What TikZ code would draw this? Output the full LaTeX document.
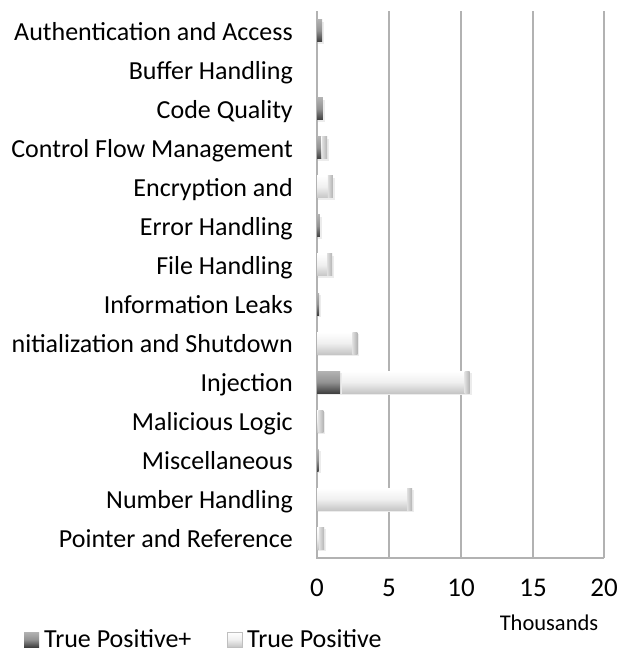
\documentclass[tikz,border=0pt]{standalone}
\usepackage{fontspec}
\setmainfont{Carlito}
\newcommand\barlight[3]{%
  \fill[gray!15] ({317+#2*14.4+1},{#1-9}) rectangle ({317+#3*14.4+2},{#1+13});
  \shade[lightbar] ({317+#2*14.4},{#1-11}) rectangle ({317+#3*14.4},{#1+11});
  \shade[lightcap] ({317+#3*14.4-min(5,(#3-#2)*14.4)},{#1-11}) rectangle ({317+#3*14.4},{#1+11});
}
\newcommand\bardark[3]{%
  \fill[gray!15] ({317+#2*14.4+1},{#1-9}) rectangle ({317+#3*14.4+2},{#1+13});
  \shade[darkbar] ({317+#2*14.4},{#1-11}) rectangle ({317+#3*14.4},{#1+11});
}
\begin{document}
\begin{tikzpicture}[x=1pt,y=-1pt,
  cat/.style={anchor=base east,font=\fontsize{26}{26}\selectfont,inner sep=0pt},
  gridline/.style={draw=gray!60,line width=1.2pt},
  ticklab/.style={anchor=base,font=\fontsize{27}{27}\selectfont,inner sep=0pt},
  leglab/.style={anchor=base west,font=\fontsize{26}{26}\selectfont,inner sep=0pt,text depth=0pt},
  lightbar/.style={top color=white,bottom color=gray!45,middle color=gray!12},
  lightcap/.style={left color=gray!25,right color=gray!60},
  darkbar/.style={top color=gray!60,bottom color=black!75,middle color=gray!85}]
\useasboundingbox (0,0) rectangle (618,653);
\fill[white] (0,0) rectangle (618,653);
% grid
\foreach \gx in {389,461,533,604} \draw[gridline] (\gx,11) -- (\gx,558);
\draw[gridline] (317,11) -- (317,558) -- (604,558);
% labels
\node[cat] (l1) at (293,40) {Authentication and Access};
\node[cat] (l2) at (293,79.1) {Buffer Handling};
\node[cat] (l3) at (293,118.1) {Code Quality};
\node[cat] (l4) at (293,157.2) {Control Flow Management};
\node[cat] (l5) at (293,196.3) {Encryption and};
\node[cat] (l6) at (293,235.4) {Error Handling};
\node[cat] (l7) at (293,274.4) {File Handling};
\node[cat] (l8) at (293,313.5) {Information Leaks};
\node[cat] (l9) at (293,352.6) {nitialization and Shutdown};
\node[cat] (l10) at (293,391.6) {Injection};
\node[cat] (l11) at (293,430.7) {Malicious Logic};
\node[cat] (l12) at (293,469.8) {Miscellaneous};
\node[cat] (l13) at (293,508.8) {Number Handling};
\node[cat] (l14) at (293,547.9) {Pointer and Reference};
% bars
\bardark{30.5}{0}{0.35}
\bardark{108.6}{0}{0.4}
\bardark{147.7}{0}{0.3}
\barlight{147.7}{0.3}{0.7}
\barlight{186.8}{0}{1.1}
\bardark{225.9}{0}{0.2}
\barlight{264.9}{0}{1.05}
\bardark{304.0}{0}{0.15}
\barlight{343.1}{0}{2.8}
\barlight{382.1}{1.6}{10.6}
\bardark{382.1}{0}{1.6}
\barlight{421.2}{0}{0.45}
\bardark{460.3}{0}{0.12}
\barlight{499.3}{0}{6.6}
\barlight{538.4}{0}{0.5}
% ticks
\node[ticklab] (t0) at (317,596) {0};
\node[ticklab] (t5) at (389,596) {5};
\node[ticklab] (t10) at (461,596) {10};
\node[ticklab] (t15) at (533,596) {15};
\node[ticklab] (t20) at (604,596) {20};
\node[ticklab,font=\fontsize{22.5}{22.5}\selectfont] (th) at (549,630) {Thousands};
% legend
\shade[darkbar] (24,632) rectangle (39,647);
\node[leglab] (lg1) at (44,647) {True Positive+};
\shade[lightbar,draw=gray!50,line width=0.4pt] (227,632) rectangle (242,647);
\node[leglab] (lg2) at (247,647) {True Positive};
\end{tikzpicture}
\end{document}
